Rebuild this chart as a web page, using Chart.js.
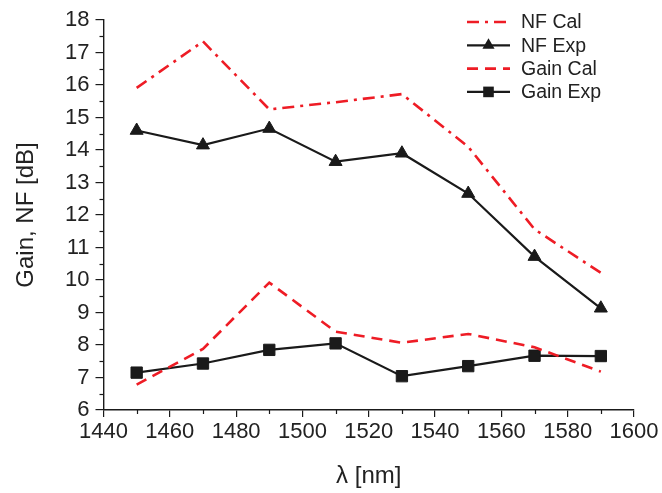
<!DOCTYPE html>
<html>
<head>
<meta charset="utf-8">
<script src="https://cdn.jsdelivr.net/npm/chart.js@4.4.1/dist/chart.umd.min.js"></script>
<style>
html,body{margin:0;padding:0;background:#fff;}
#wrap{width:662px;height:493px;position:relative;}
</style>
</head>
<body>
<div id="wrap"><canvas id="c" width="662" height="493"></canvas></div>
<script>
const wavelengths = [1450, 1470, 1490, 1510, 1530, 1550, 1570, 1590];
const nfCal   = [15.91, 17.34, 15.25, 15.47, 15.72, 14.1, 11.56, 10.22];
const nfExp   = [14.6, 14.15, 14.66, 13.64, 13.9, 12.66, 10.72, 9.13];
const gainCal = [6.78, 7.88, 9.92, 8.41, 8.07, 8.34, 7.93, 7.18];
const gainExp = [7.15, 7.43, 7.85, 8.05, 7.04, 7.35, 7.67, 7.66];
const xTicks = [1440, 1460, 1480, 1500, 1520, 1540, 1560, 1580, 1600];
const yTicks = [6, 7, 8, 9, 10, 11, 12, 13, 14, 15, 16, 17, 18];
const seriesNames = ['NF Cal', 'NF Exp', 'Gain Cal', 'Gain Exp'];

const RED = '#ee1c25';
const INK = '#1a1a1a';
const FONT = '"Liberation Sans", Arial, sans-serif';

function pts(arr){ return wavelengths.map((w,i)=>({x:w, y:arr[i]})); }

const datasets = [
  {label: seriesNames[0], data: pts(nfCal), borderColor: RED, borderWidth: 2.6, borderDash:[12,6,3,6], pointRadius:0, pointStyle:false, tension:0},
  {label: seriesNames[1], data: pts(nfExp), borderColor: INK, backgroundColor: INK, borderWidth: 2.2, pointStyle:'triangle', pointRadius:7.5, pointBorderWidth:1, pointBorderColor:INK, pointBackgroundColor:INK, tension:0},
  {label: seriesNames[2], data: pts(gainCal), borderColor: RED, borderWidth: 2.6, borderDash:[11,7], pointRadius:0, pointStyle:false, tension:0},
  {label: seriesNames[3], data: pts(gainExp), borderColor: INK, backgroundColor: INK, borderWidth: 2.2, pointStyle:'rect', pointRadius:8, pointBorderWidth:1, pointBorderColor:INK, pointBackgroundColor:INK, tension:0}
];

const minorTicks = {
  id:'minorTicks',
  afterDraw(chart){
    const ctx = chart.ctx, xs = chart.scales.x, ys = chart.scales.y;
    const ca = chart.chartArea;
    ctx.save();
    ctx.strokeStyle = INK; ctx.lineWidth = 1.2;
    for(let i=0;i<xTicks.length-1;i++){
      const v = (xTicks[i]+xTicks[i+1])/2;
      const px = Math.round(xs.getPixelForValue(v))+0.5;
      ctx.beginPath(); ctx.moveTo(px, ca.bottom); ctx.lineTo(px, ca.bottom+4); ctx.stroke();
    }
    for(let i=0;i<yTicks.length-1;i++){
      const v = (yTicks[i]+yTicks[i+1])/2;
      const py = Math.round(ys.getPixelForValue(v))+0.5;
      ctx.beginPath(); ctx.moveTo(ca.left, py); ctx.lineTo(ca.left-4, py); ctx.stroke();
    }
    ctx.restore();
  }
};

const customLegend = {
  id:'customLegend',
  afterDraw(chart){
    const ctx = chart.ctx;
    ctx.save();
    chart.data.datasets.forEach((ds,i)=>{
      const y = 22 + i*23.3;
      const x0 = 467, x1 = 510;
      ctx.strokeStyle = ds.borderColor;
      ctx.lineWidth = ds.borderWidth;
      ctx.setLineDash(ds.borderDash || []);
      ctx.beginPath(); ctx.moveTo(x0,y); ctx.lineTo(x1,y); ctx.stroke();
      ctx.setLineDash([]);
      if(ds.pointStyle){
        ctx.fillStyle = INK; ctx.strokeStyle = INK;
        const r = ds.pointRadius - 0.5;
        const cx=(x0+x1)/2;
        ctx.beginPath();
        if(ds.pointStyle==='triangle'){
          ctx.moveTo(cx, y - r); ctx.lineTo(cx + r*0.866, y + r*0.5); ctx.lineTo(cx - r*0.866, y + r*0.5); ctx.closePath();
        } else {
          const s = r*Math.SQRT1_2;
          ctx.rect(cx-s, y-s, 2*s, 2*s);
        }
        ctx.fill();
      }
      ctx.fillStyle = '#222';
      ctx.font = '19.5px ' + FONT;
      ctx.textBaseline = 'middle';
      ctx.textAlign = 'left';
      ctx.fillText(ds.label, 521, y+1);
    });
    ctx.restore();
  }
};

new Chart(document.getElementById('c'), {
  type:'line',
  data:{datasets},
  options:{
    responsive:false,
    animation:false,
    layout:{padding:{top:20, right:28, left:0, bottom:0}},
    plugins:{legend:{display:false}, tooltip:{enabled:false}},
    scales:{
      x:{
        type:'linear', min:1440, max:1600,
        afterBuildTicks(s){ s.ticks = xTicks.map(v=>({value:v})); },
        afterFit(s){ s.height = 83; },
        ticks:{color:'#222', font:{family:FONT, size:22}, padding:2, maxRotation:0, autoSkip:false, callback:(v)=>String(v)},
        grid:{display:true, drawOnChartArea:false, drawTicks:true, tickLength:7, color:INK, lineWidth:1.2},
        border:{display:true, color:INK, width:1.4},
        title:{display:true, text:'λ [nm]', color:'#222', font:{family:FONT, size:24}, padding:{top:0, bottom:2}}
      },
      y:{
        type:'linear', min:6, max:18,
        afterBuildTicks(s){ s.ticks = yTicks.map(v=>({value:v})); },
        afterFit(s){ s.width = 103.5; },
        ticks:{color:'#222', font:{family:FONT, size:22}, padding:6, autoSkip:false, callback:(v)=>String(v)},
        grid:{display:true, drawOnChartArea:false, drawTicks:true, tickLength:8, color:INK, lineWidth:1.2},
        border:{display:true, color:INK, width:1.4},
        title:{display:true, text:'Gain, NF [dB]', color:'#222', font:{family:FONT, size:24}, padding:{top:12, bottom:0}}
      }
    }
  },
  plugins:[minorTicks, customLegend]
});
</script>
</body>
</html>
